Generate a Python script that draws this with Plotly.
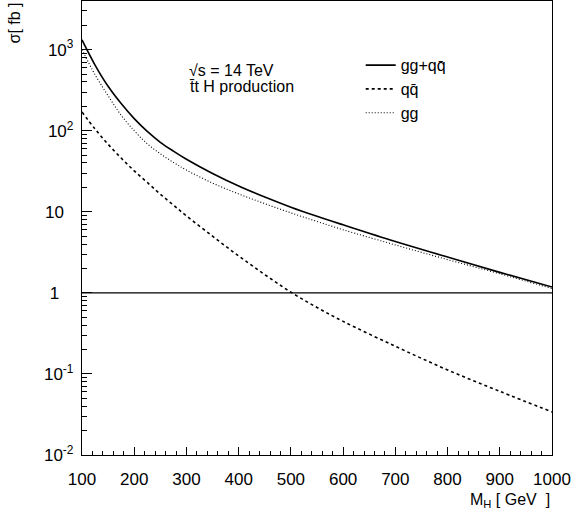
import plotly.graph_objects as go

# Higgs mass values (GeV)
m_h = [100, 125, 150, 175, 200, 225, 250, 275, 300, 350, 400, 450, 500, 550, 600, 700, 800, 900, 1000]
# cross sections in fb
sigma_total = [1320, 646, 353, 216, 141, 98, 72, 56, 44.5, 29.7, 20.8, 15.2, 11.4, 8.8, 6.9, 4.3, 2.77, 1.79, 1.18]
sigma_qq = [170, 105, 68, 46, 32, 23, 16.5, 12.1, 8.9, 5.0, 2.85, 1.68, 1.02, 0.66, 0.445, 0.219, 0.112, 0.061, 0.034]
sigma_gg = [1000, 490, 270, 155, 100, 69, 52, 40.7, 32.7, 22.6, 16.6, 12.6, 9.7, 7.6, 6.0, 3.9, 2.57, 1.72, 1.13]

x_ticks = [100, 200, 300, 400, 500, 600, 700, 800, 900, 1000]
y_ticks = [0.01, 0.1, 1, 10, 100, 1000]
y_ticktext = ["10<sup>-2</sup>", "10<sup>-1</sup>", "1\u00a0\u00a0\u00a0", "10\u00a0\u00a0", "10<sup>2</sup>", "10<sup>3</sup>"]

FONT = "Liberation Sans, Arial, sans-serif"

fig = go.Figure()
fig.add_trace(go.Scatter(x=[100, 1000], y=[1, 1], mode="lines",
                         line=dict(color="black", width=1.3), showlegend=False, hoverinfo="skip"))
fig.add_trace(go.Scatter(x=m_h, y=sigma_total, mode="lines", name="gg+qq\u0304",
                         line=dict(color="black", width=1.6, shape="spline")))
fig.add_trace(go.Scatter(x=m_h, y=sigma_qq, mode="lines", name="qq\u0304",
                         line=dict(color="black", width=1.6, dash="3px,3px", shape="spline")))
fig.add_trace(go.Scatter(x=m_h, y=sigma_gg, mode="lines", name="gg",
                         line=dict(color="black", width=1.1, dash="1px,2px", shape="spline")))

minor_y = []
for e in range(-2, 4):
    for d in range(2, 10):
        v = d * 10 ** e
        if v < 4000:
            minor_y.append(v)

fig.update_layout(
    width=572, height=514,
    margin=dict(l=82, r=20, t=1, b=59),
    paper_bgcolor="white", plot_bgcolor="white",
    font=dict(family=FONT, size=16, color="black"),
    showlegend=True,
    legend=dict(x=0.593, y=0.896, xanchor="left", yanchor="top",
                bgcolor="rgba(0,0,0,0)", font=dict(size=16), tracegroupgap=0),
    xaxis=dict(type="linear", range=[100, 1000], showline=True, linecolor="black", linewidth=1.3,
               mirror=True, ticks="inside", ticklen=8, tickwidth=1, tickcolor="black",
               tickvals=x_ticks, showgrid=False, zeroline=False, ticklabelstandoff=8,
               tickfont=dict(size=17),
               minor=dict(ticks="inside", ticklen=4, tickwidth=1, tickcolor="black", dtick=20,
                          tick0=100, showgrid=False)),
    yaxis=dict(type="log", range=[-2, 3.6], showline=True, linecolor="black", linewidth=1.3,
               mirror=True, ticks="inside", ticklen=10, tickwidth=1, tickcolor="black",
               tickvals=y_ticks, ticktext=y_ticktext, showgrid=False, zeroline=False,
               ticklabelstandoff=4, tickfont=dict(size=17),
               minor=dict(ticks="inside", ticklen=5, tickwidth=1, tickcolor="black",
                          tickvals=minor_y, showgrid=False)),
)

fig.add_annotation(text="\u221as = 14 TeV", xref="paper", yref="paper", x=0.2234, y=0.848,
                   xanchor="left", yanchor="middle", showarrow=False, font=dict(size=16))
fig.add_annotation(text="t\u0304t H production", xref="paper", yref="paper", x=0.2234, y=0.812,
                   xanchor="left", yanchor="middle", showarrow=False, font=dict(size=16))
fig.add_annotation(text="\u03c3[ fb ]", xref="paper", yref="paper", x=-0.1426, y=1, yshift=1,
                   xanchor="center", yanchor="top", textangle=-90, showarrow=False, font=dict(size=16))
fig.add_annotation(text="M<sub>H</sub> [ GeV\u00a0\u00a0]", xref="paper", yref="paper", x=1, y=-0.1,
                   xanchor="right", yanchor="middle", showarrow=False, font=dict(size=16))

fig.write_html("out.html", config={"displayModeBar": False},
               post_script="document.body.style.margin='0px';")
